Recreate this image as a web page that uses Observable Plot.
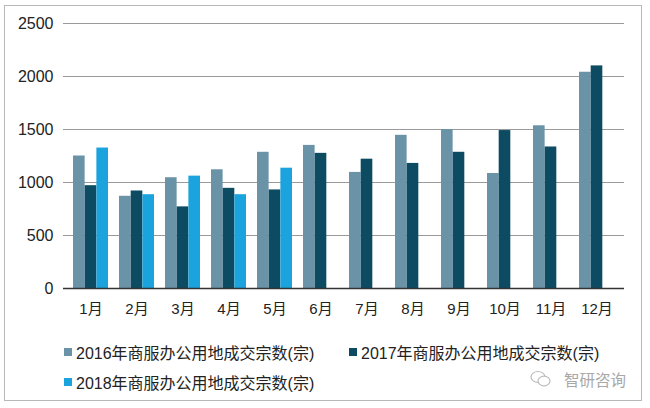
<!DOCTYPE html>
<html>
<head>
<meta charset="utf-8">
<script src="https://cdn.jsdelivr.net/npm/d3@7"></script>
<script src="https://cdn.jsdelivr.net/npm/@observablehq/plot@0.6"></script>
<style>
  html, body { margin: 0; padding: 0; background: #fff; }
  #wrap { position: relative; width: 650px; height: 408px; overflow: hidden;
          font-family: "Liberation Sans", Arial, "Noto Sans CJK SC", sans-serif; color: #222; }
  #frame { position: absolute; left: 4px; top: 5px; width: 638px; height: 396px;
           border: 1px solid #b8b8b8; box-sizing: border-box; pointer-events: none; }
  #chart svg { display: block; }
  [aria-label^="y-axis"] text { font-size: 16px; }
  #legend { position: relative; width: 650px; height: 86px; font-size: 16px;
            font-family: "Liberation Sans", Arial, "Noto Sans CJK SC", sans-serif; }
  .item { position: absolute; display: flex; align-items: center; white-space: nowrap; }
  .sw { width: 8px; height: 8px; margin-right: 4px; }
  #wm { position: absolute; left: 530px; top: 46px; display: flex; align-items: center;
        color: #a8a8a8; font-size: 15.5px; font-family: "Noto Sans CJK SC", sans-serif; }
</style>
</head>
<body>
<div id="wrap">
  <div id="chart"></div>
  <div id="legend"></div>
  <div id="frame"></div>
</div>
<script>
const months = ["1月","2月","3月","4月","5月","6月","7月","8月","9月","10月","11月","12月"];
const series = ["2016年商服办公用地成交宗数(宗)","2017年商服办公用地成交宗数(宗)","2018年商服办公用地成交宗数(宗)"];
const colors = ["#6a93a8", "#0c4b62", "#1aa3dc"];
const v2016 = [1250, 870, 1045, 1120, 1285, 1350, 1095, 1445, 1500, 1085, 1535, 2040];
const v2017 = [970, 920, 770, 945, 930, 1275, 1220, 1180, 1285, 1490, 1335, 2100];
const v2018 = [1325, 885, 1060, 885, 1135, null, null, null, null, null, null, null];
const yTicks = [0, 500, 1000, 1500, 2000, 2500];

const W = 650, H = 322, mL = 63, mR = 26, mT = 23, mB = 34;
const padIn = 0.25, padOut = 0.125;
const step = (W - mL - mR) / (months.length - padIn + 2 * padOut);
const bw3 = step * (1 - padIn) / 3;

const rows = (vals) => months.map((m, i) => ({month: m, value: vals[i]})).filter(d => d.value != null);

const chart = Plot.plot({
  width: W, height: H,
  marginLeft: mL, marginRight: mR, marginTop: mT, marginBottom: mB,
  style: {fontSize: "15px", fontFamily: '"Liberation Sans", Arial, "Noto Sans CJK SC", sans-serif', color: "#222", background: "transparent"},
  x: {domain: months, paddingInner: padIn, paddingOuter: padOut, label: null, tickSize: 0, tickPadding: 15},
  y: {domain: [0, 2500], ticks: yTicks, tickFormat: d3.format("d"), label: null, tickSize: 0, tickPadding: 10},
  marks: [
    Plot.ruleY(yTicks.filter(d => d > 0), {stroke: "#9a9a9a", strokeWidth: 1}),
    Plot.barY(rows(v2016), {x: "month", y: "value", fill: colors[0], insetRight: 2 * bw3}),
    Plot.barY(rows(v2017), {x: "month", y: "value", fill: colors[1], insetLeft: bw3, insetRight: bw3}),
    Plot.barY(rows(v2018), {x: "month", y: "value", fill: colors[2], insetLeft: 2 * bw3}),
    Plot.ruleY([0], {stroke: "#333", strokeWidth: 1.5})
  ]
});
document.getElementById("chart").appendChild(chart);

const legend = document.getElementById("legend");
const pos = [[64, 18], [349, 18], [64, 48]];
series.forEach((s, i) => {
  const it = document.createElement("div");
  it.className = "item";
  it.style.left = pos[i][0] + "px";
  it.style.top = pos[i][1] + "px";
  it.innerHTML = `<span class="sw" style="background:${colors[i]}"></span><span>${s}</span>`;
  legend.appendChild(it);
});
const wm = document.createElement("div");
wm.id = "wm";
wm.innerHTML = `<svg width="22" height="18" viewBox="0 0 22 18" style="margin-right:12px">
  <ellipse cx="8" cy="7" rx="7" ry="5.5" fill="none" stroke="#bbb" stroke-width="1.2"/>
  <ellipse cx="14" cy="11" rx="6" ry="4.8" fill="#fff" stroke="#bbb" stroke-width="1.2"/>
  </svg><span>智研咨询</span>`;
legend.appendChild(wm);
</script>
</body>
</html>
